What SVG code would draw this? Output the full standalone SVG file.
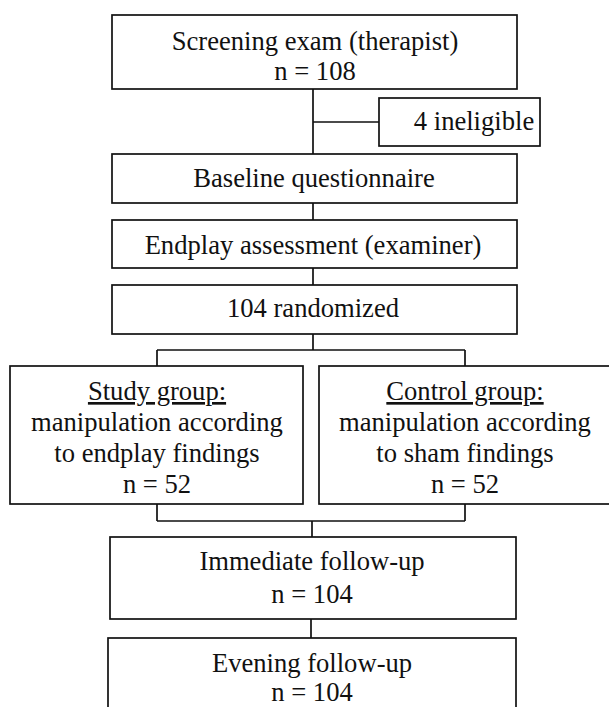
<svg xmlns="http://www.w3.org/2000/svg" width="609" height="707" viewBox="0 0 609 707">
<style>
.box{fill:#fff;stroke:#111;stroke-width:1.7}
.t{font-family:"Liberation Serif","Times New Roman",serif;font-size:26.6px;fill:#111;text-anchor:middle}
.u{text-decoration:underline}
.c{fill:none;stroke:#111;stroke-width:1.7}
</style>
<rect width="609" height="707" fill="#fff"/>
<g id="connectors">
<path class="c" d="M313 89V154M313 122H379M313 203V220M313 268V285M313 334V350M157 350H465M157 350V366M465 350V366M157 504V521M465 504V521M157 521H465M312 521V537M311 619V638"/>
</g>
<g id="screening">
<rect class="box" x="112" y="15" width="405" height="74"/>
<text class="t" x="315" y="50">Screening exam (therapist)</text>
<text class="t" x="315" y="80">n = 108</text>
</g>
<g id="ineligible">
<rect class="box" x="379" y="98" width="161" height="48"/>
<text class="t" x="474" y="130">4 ineligible</text>
</g>
<g id="baseline">
<rect class="box" x="112" y="154" width="405" height="49"/>
<text class="t" x="314" y="187">Baseline questionnaire</text>
</g>
<g id="endplay">
<rect class="box" x="112" y="220" width="405" height="48"/>
<text class="t" x="313" y="254">Endplay assessment (examiner)</text>
</g>
<g id="randomized">
<rect class="box" x="112" y="285" width="405" height="49"/>
<text class="t" x="313" y="317">104 randomized</text>
</g>
<g id="study">
<rect class="box" x="10" y="366" width="293" height="138"/>
<text class="t u" x="157" y="400">Study group:</text>
<text class="t" x="157" y="431">manipulation according</text>
<text class="t" x="157" y="462">to endplay findings</text>
<text class="t" x="157" y="493">n = 52</text>
</g>
<g id="control">
<rect class="box" x="319" y="366" width="292" height="138"/>
<text class="t u" x="465" y="400">Control group:</text>
<text class="t" x="465" y="431">manipulation according</text>
<text class="t" x="465" y="462">to sham findings</text>
<text class="t" x="465" y="493">n = 52</text>
</g>
<g id="immediate">
<rect class="box" x="110" y="537" width="406" height="82"/>
<text class="t" x="312" y="570">Immediate follow-up</text>
<text class="t" x="312" y="603">n = 104</text>
</g>
<g id="evening">
<rect class="box" x="108" y="638" width="408" height="80"/>
<text class="t" x="312" y="672">Evening follow-up</text>
<text class="t" x="312" y="701">n = 104</text>
</g>
</svg>
